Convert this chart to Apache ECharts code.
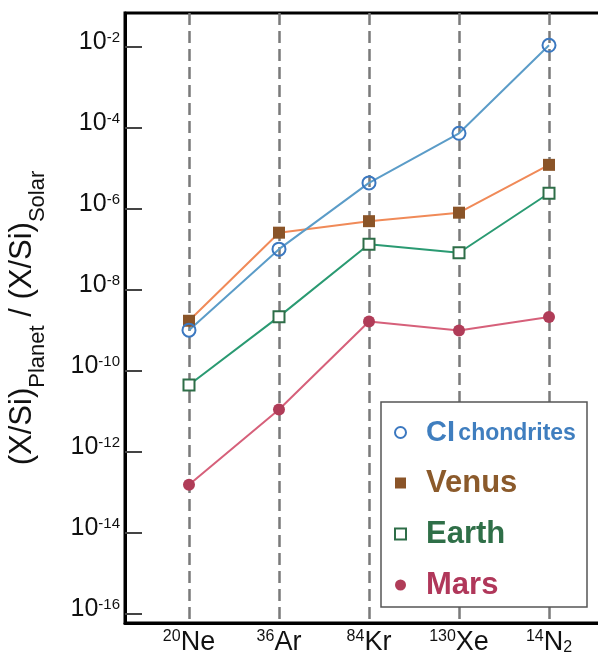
<!DOCTYPE html>
<html>
<head>
<meta charset="utf-8">
<script src="https://cdn.jsdelivr.net/npm/echarts@6/dist/echarts.min.js"></script>
<style>
html,body{margin:0;padding:0;background:#fff;}
#chart{width:598px;height:661px;}
</style>
</head>
<body>
<div id="chart"></div>
<script>
// ---- data ----
const categories = ['Ne', 'Ar', 'Kr', 'Xe', 'N'];
const massNumbers = ['20', '36', '84', '130', '14'];
const subscripts = ['', '', '', '', '2'];
const seriesNames = ['CI chondrites', 'Venus', 'Earth', 'Mars'];
const ciChondrites = [1.02e-9, 1.02e-7, 4.4e-6, 7.4e-5, 1.1e-2];
const venus = [1.74e-9, 2.6e-7, 5.0e-7, 8.1e-7, 1.23e-5];
const earth = [4.5e-11, 2.2e-9, 1.35e-7, 8.3e-8, 2.45e-6];
const mars = [1.55e-13, 1.12e-11, 1.66e-9, 1.0e-9, 2.14e-9];
const yTickValues = [1e-16, 1e-14, 1e-12, 1e-10, 1e-8, 1e-6, 1e-4, 1e-2];
const yMin = 6.0e-17;
const yMax = 6.9e-2;

const FONT = "'Liberation Sans', Arial, Helvetica, sans-serif";
const colors = {
  ci:    {line: '#5b9cc8', mark: '#3b78c0', text: '#3f7ebf'},
  venus: {line: '#f08a58', mark: '#8a5428', text: '#8b5a2b'},
  earth: {line: '#2a9a72', mark: '#2e6e48', text: '#2f6f48'},
  mars:  {line: '#d6607a', mark: '#b03c58', text: '#b0375a'}
};

const toPts = arr => arr.map((v, i) => [i, Math.log10(v)]);
const yTickExps = yTickValues.map(v => Math.round(Math.log10(v)));
const catIdx = categories.map((c, i) => i);

const chart = echarts.init(document.getElementById('chart'), null, {renderer: 'canvas'});

const option = {
  animation: false,
  backgroundColor: '#fff',
  grid: {
    left: 125, top: 13, right: -15, bottom: 38,
    show: true, borderColor: '#000', borderWidth: 3,
    outerBoundsMode: 'none'
  },
  xAxis: {
    type: 'value',
    min: -0.711, max: 4.711,
    axisLine: {show: true, onZero: false, lineStyle: {color: '#000', width: 3}},
    axisTick: {show: false, customValues: catIdx},
    splitLine: {show: true, lineStyle: {color: '#7a7a7a', width: 2.5, type: [12, 6]}},
    axisLabel: {
      customValues: catIdx,
      margin: 6,
      formatter: function (v) {
        const i = Math.round(v);
        if (i < 0 || i >= categories.length) return '';
        let s = '{s|' + massNumbers[i] + '}{b|' + categories[i] + '}';
        if (subscripts[i]) s += '{d|' + subscripts[i] + '}';
        return s;
      },
      rich: {
        b: {fontSize: 27, fontFamily: FONT, color: '#111', lineHeight: 27, verticalAlign: 'top'},
        s: {fontSize: 16, fontFamily: FONT, color: '#111', verticalAlign: 'top'},
        d: {fontSize: 16, fontFamily: FONT, color: '#111', verticalAlign: 'bottom'}
      }
    }
  },
  yAxis: {
    type: 'value',
    min: Math.log10(yMin), max: Math.log10(yMax),
    axisLine: {show: true, onZero: false, lineStyle: {color: '#000', width: 3}},
    axisTick: {show: true, inside: true, length: 17, customValues: yTickExps, lineStyle: {color: '#444', width: 2}},
    splitLine: {show: false},
    axisLabel: {
      customValues: yTickExps,
      margin: 5,
      formatter: function (v) { return '{b|10}{s|' + Math.round(v) + '}'; },
      rich: {
        b: {fontSize: 25, fontFamily: FONT, color: '#111', lineHeight: 34, verticalAlign: 'top'},
        s: {fontSize: 15, fontFamily: FONT, color: '#111', verticalAlign: 'top'}
      }
    },
    name: '{m|(X/Si)}{sub|Planet}{m| / (X/Si)}{sub|Solar}',
    nameLocation: 'middle',
    nameRotate: 90,
    nameGap: 76,
    nameTextStyle: {
      rich: {
        m: {fontSize: 31, fontFamily: FONT, color: '#111', lineHeight: 42, verticalAlign: 'top'},
        sub: {fontSize: 22, fontFamily: FONT, color: '#111', verticalAlign: 'bottom'}
      }
    }
  },
  legend: {
    orient: 'vertical',
    left: 394, top: 418,
    padding: 0,
    itemWidth: 11, itemHeight: 11,
    itemGap: 20,
    selectedMode: false,
    data: [
      {name: 'CI chondrites', icon: 'circle', itemStyle: {color: '#fff', borderColor: colors.ci.mark, borderWidth: 2}},
      {name: 'Venus', icon: 'rect', itemStyle: {color: colors.venus.mark, borderWidth: 0}},
      {name: 'Earth', icon: 'rect', itemStyle: {color: '#fff', borderColor: colors.earth.mark, borderWidth: 2}},
      {name: 'Mars', icon: 'circle', itemStyle: {color: colors.mars.mark, borderWidth: 0}}
    ],
    formatter: function (name) {
      if (name === 'CI chondrites') return '{ciBig|CI} {ciSmall|chondrites}';
      if (name === 'Venus') return '{venus|Venus}';
      if (name === 'Earth') return '{earth|Earth}';
      return '{mars|Mars}';
    },
    textStyle: {
      fontFamily: FONT,
      rich: {
        ciBig: {fontSize: 29, fontWeight: 'bold', fontFamily: FONT, color: colors.ci.text, lineHeight: 30, padding: [0, 0, 0, 15]},
        ciSmall: {fontSize: 23, fontWeight: 'bold', fontFamily: FONT, color: colors.ci.text, lineHeight: 30, verticalAlign: 'bottom', padding: [0, 0, 2, 0]},
        venus: {fontSize: 31, fontWeight: 'bold', fontFamily: FONT, color: colors.venus.text, lineHeight: 30, padding: [0, 0, 0, 15]},
        earth: {fontSize: 31, fontWeight: 'bold', fontFamily: FONT, color: colors.earth.text, lineHeight: 30, padding: [0, 0, 0, 15]},
        mars: {fontSize: 31, fontWeight: 'bold', fontFamily: FONT, color: colors.mars.text, lineHeight: 30, padding: [0, 0, 0, 15]}
      }
    }
  },
  graphic: [{
    type: 'rect', z: 3,
    shape: {x: 381, y: 402, width: 206, height: 205},
    style: {fill: '#fff', stroke: '#555', lineWidth: 1.5}
  }],
  series: [
    {
      name: 'Venus', type: 'line', data: toPts(venus), z: 3,
      symbol: 'rect', symbolSize: 12,
      lineStyle: {color: colors.venus.line, width: 2},
      itemStyle: {color: colors.venus.mark, borderWidth: 0}
    },
    {
      name: 'Earth', type: 'line', data: toPts(earth), z: 3,
      symbol: 'rect', symbolSize: 11,
      lineStyle: {color: colors.earth.line, width: 2},
      itemStyle: {color: '#fff', borderColor: colors.earth.mark, borderWidth: 2}
    },
    {
      name: 'Mars', type: 'line', data: toPts(mars), z: 3,
      symbol: 'circle', symbolSize: 12,
      lineStyle: {color: colors.mars.line, width: 2},
      itemStyle: {color: colors.mars.mark, borderWidth: 0}
    },
    {
      name: 'CI chondrites', type: 'line', data: toPts(ciChondrites), z: 3,
      symbol: 'circle', symbolSize: 13,
      lineStyle: {color: colors.ci.line, width: 2},
      itemStyle: {color: 'rgba(255,255,255,0)', borderColor: colors.ci.mark, borderWidth: 2}
    }
  ]
};
chart.setOption(option);
</script>
</body>
</html>
